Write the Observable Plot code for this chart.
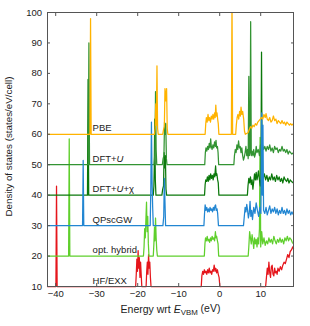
<!DOCTYPE html>
<html><head><meta charset="utf-8">
<script src="https://cdn.jsdelivr.net/npm/d3@7"></script>
<script src="https://cdn.jsdelivr.net/npm/@observablehq/plot@0.6"></script>
<style>body{margin:0;background:#fff} svg{display:block}</style>
</head><body><div id="chart"></div>
<script>
// ---- data (DOS values read relative to each curve's offset) ----
const seriesNames = ["PBE", "DFT+U", "DFT+U+χ", "QPscGW", "opt. hybrid", "HF/EXX"];
const offsets = [60, 50, 40, 30, 20, 10];
const colors = ["#ffb300", "#339433", "#0b780b", "#2286d2", "#5fcf2c", "#e5161c"];
const xTicks = [-40, -30, -20, -10, 0, 10];
const yTicks = [10, 20, 30, 40, 50, 60, 70, 80, 90, 100];
const xLabel = "Energy wrt E_VBM (eV)";
const yLabel = "Density of states (states/eV/cell)";
const labelEnergy = -31;

const pbe = [[-42,0],[-31.65,0],[-31.5,38],[-31.35,0],
[-15.9,0],[-15.75,2],[-15.6,10],[-15.45,3],[-15.3,22.5],[-15.15,2],[-15.0,0],
[-13.9,0],[-13.7,1.5],[-13.5,2.5],[-13.35,15],[-13.15,11],[-12.95,15],[-12.8,2],[-12.65,0],
[-3.55,0],[-3.4,3.5],[-3.25,5.5],[-3.05,4],[-2.85,6.5],[-2.65,4.5],[-2.45,5.5],[-2.25,4],[-2.05,6],[-1.85,5],[-1.65,6.5],[-1.45,5],[-1.25,7],[-1.1,5.5],[-0.95,9.6],[-0.8,6],[-0.65,7],[-0.5,5],[-0.35,3.5],[-0.2,0],
[2.85,0],[3.0,45],[3.15,0],
[3.9,0],[4.05,3],[4.25,5.5],[4.45,6.5],[4.65,5],[4.85,7.5],[5.05,6],[5.2,8.9],[5.4,6.5],[5.6,7.5],[5.85,5],[6.05,1],[6.25,0],[6.9,0.5],[7.2,1.5],[7.5,2.5],[7.8,2],[8.1,3],[8.4,2.5],[8.7,3.5],[9.0,3],[9.3,4],[9.6,4.5],[9.9,5],[10.2,5.5],[10.5,5],[10.8,6.5],[11.1,5.5],[11.3,6.8],[11.6,5],[11.9,4.5],[12.2,5.5],[12.5,4],[12.8,4.5],[13.1,6],[13.4,4.5],[13.7,5],[14.0,3.5],[14.3,4.5],[14.6,4],[14.9,3.5],[15.2,4.5],[15.5,3.5],[15.8,4],[16.1,3],[16.4,4],[16.7,3.5],[17.0,3],[17.3,3.5],[17.6,3],[18,3.5]];

const dftu = [[-42,0],[-32.05,0],[-31.9,40],[-31.75,0],
[-16.0,0],[-15.85,3],[-15.75,9],[-15.65,24],[-15.5,5],[-15.35,0],
[-14.0,0],[-13.8,2],[-13.6,3],[-13.45,14],[-13.3,10],[-13.15,13.5],[-13.0,2],[-12.85,0],
[-3.65,0],[-3.5,4],[-3.35,5.5],[-3.15,4.5],[-2.95,6],[-2.75,5],[-2.55,7],[-2.35,5.5],[-2.2,8.5],[-2.05,6],[-1.85,5],[-1.65,6.5],[-1.45,5.5],[-1.25,7.5],[-1.05,6],[-0.9,8],[-0.75,5.5],[-0.55,6],[-0.4,4],[-0.25,0],
[3.45,0],[3.6,3],[3.8,5],[4.0,4],[4.2,6.5],[4.4,5],[4.6,7.8],[4.8,5.5],[5.0,6],[5.2,4],[5.4,5.5],[5.6,3],[5.8,1.5],[6.0,2.5],[6.2,4],[6.4,6],[6.6,3],[6.8,5],[6.95,2],[7.1,29],[7.25,3],[7.4,4],[7.55,47],[7.7,3],[7.9,4.5],[8.1,3],[8.3,5],[8.5,2.5],[8.7,3.5],[8.9,6],[9.1,4],[9.4,5],[9.7,3],[9.95,6.5],[10.2,4],[10.45,6.5],[10.7,5],[11.0,6],[11.3,4.5],[11.6,6],[11.9,5],[12.2,6.5],[12.5,4.5],[12.8,5.5],[13.1,4],[13.4,6],[13.7,5],[14.0,5.5],[14.3,4],[14.6,5],[14.9,4.5],[15.2,6],[15.5,4.5],[15.8,5],[16.1,4],[16.4,5],[16.7,3.5],[17.0,4.5],[17.3,4],[17.6,3.5],[18,4]];

const dftuchi = [[-42,0],[-32.25,0],[-32.1,38],[-31.95,0],
[-16.2,0],[-16.05,3],[-15.95,10],[-15.85,25],[-15.7,5],[-15.55,0],
[-14.1,0],[-13.9,2],[-13.7,3],[-13.55,14],[-13.4,9],[-13.25,13],[-13.1,2],[-12.95,0],
[-3.7,0],[-3.55,3.5],[-3.4,5],[-3.2,4.5],[-3.0,6],[-2.8,4.5],[-2.6,6.5],[-2.4,5],[-2.2,7],[-2.0,5.5],[-1.8,6.5],[-1.6,5],[-1.4,7],[-1.2,6],[-1.0,9.6],[-0.85,6.5],[-0.7,7],[-0.5,5],[-0.35,4],[-0.2,0],
[6.75,0],[6.9,3],[7.1,5.5],[7.3,4],[7.5,6],[7.7,3.5],[7.9,5],[8.1,2],[8.3,4.5],[8.5,7],[8.7,5],[8.9,7.5],[9.1,5],[9.3,6.5],[9.45,8],[9.7,5],[9.9,3],[10.05,5],[10.2,47],[10.35,6],[10.6,5.5],[10.9,7],[11.2,5],[11.5,6.5],[11.8,4.5],[12.1,6],[12.4,5],[12.7,7],[13.0,5],[13.3,6],[13.6,4.5],[13.9,6.5],[14.2,5],[14.5,6],[14.8,4.5],[15.1,5.5],[15.4,4],[15.7,6],[16.0,5],[16.3,4.5],[16.6,5.5],[16.9,4],[17.2,5],[17.5,4.5],[18,4]];

const qpscgw = [[-42,0],[-33.45,0],[-33.3,21.4],[-33.15,0],
[-16.95,0],[-16.8,12],[-16.65,34],[-16.5,15],[-16.35,6],[-16.2,0],
[-13.85,0],[-13.65,3],[-13.5,15.5],[-13.35,8],[-13.2,0],
[-3.85,0],[-3.7,4],[-3.55,6.8],[-3.35,5],[-3.15,6],[-2.95,4.5],[-2.75,5.5],[-2.55,4.5],[-2.35,6],[-2.15,5],[-1.95,5.5],[-1.75,4.5],[-1.55,6],[-1.35,5],[-1.15,6.5],[-1.0,6.8],[-0.85,5],[-0.65,5.5],[-0.5,4],[-0.3,0],
[5.8,0],[6.0,3],[6.2,6],[6.4,4.5],[6.6,7],[6.8,5],[7.0,2.5],[7.2,4],[7.4,8],[7.6,3],[7.8,5],[8.0,2],[8.3,6],[8.6,4],[8.9,7.5],[9.2,5],[9.5,3],[9.8,6],[10.05,4],[10.25,37],[10.4,10],[10.55,33],[10.7,5],[11.0,4],[11.3,6],[11.6,3.5],[11.9,5],[12.2,6.5],[12.5,4],[12.8,5.5],[13.1,4.5],[13.4,6],[13.7,4],[14.0,5.5],[14.3,3.5],[14.6,5],[14.9,4],[15.2,6],[15.5,4],[15.8,5],[16.1,3.5],[16.4,5.5],[16.7,4],[17.0,5],[17.3,3.5],[17.6,4.5],[18,3.5]];

const opthybrid = [[-42,0],[-36.85,0],[-36.7,38.5],[-36.55,0],
[-18.6,0],[-18.45,3],[-18.3,9],[-18.15,6],[-18.0,12],[-17.85,17.7],[-17.7,8],[-17.55,13],[-17.4,4],[-17.25,0],
[-16.2,0],[-16.05,4],[-15.9,9.5],[-15.8,5],[-15.65,12.5],[-15.5,6],[-15.35,2],[-15.2,0],
[-3.75,0],[-3.6,4],[-3.45,6],[-3.25,5],[-3.05,6.5],[-2.85,5],[-2.65,5.5],[-2.45,4.5],[-2.25,6],[-2.05,5],[-1.85,6.5],[-1.65,5.5],[-1.45,6],[-1.25,5],[-1.05,8],[-0.9,6],[-0.75,6.5],[-0.55,5],[-0.4,4],[-0.25,0],
[6.95,0],[7.1,3],[7.3,8],[7.5,6],[7.7,4],[7.9,7],[8.1,5],[8.3,2.5],[8.5,6],[8.7,4],[8.9,5.5],[9.1,3],[9.3,6],[9.5,4],[9.7,9],[9.85,39],[10.0,3],[10.25,8],[10.5,4],[10.8,6],[11.1,3.5],[11.4,5],[11.7,4],[12.0,6],[12.3,4.5],[12.6,5.5],[12.9,4],[13.2,6.5],[13.5,5],[13.8,4],[14.1,5.5],[14.4,4.5],[14.7,6],[15.0,4.5],[15.3,5.5],[15.6,4],[15.9,6],[16.2,5],[16.5,6.5],[16.8,5],[17.1,6],[17.4,5.5],[17.7,4.5],[18,4]];

const hfexx = [[-42,0],[-39.95,0],[-39.8,33],[-39.65,0],
[-20.5,0],[-20.35,4],[-20.2,9],[-20.05,5],[-19.9,11.8],[-19.75,6],[-19.6,9.5],[-19.45,3],[-19.3,8],[-19.15,4],[-19.0,0],
[-17.95,0],[-17.8,5],[-17.65,8],[-17.5,4],[-17.35,10.5],[-17.2,6],[-17.05,8],[-16.9,3],[-16.75,0],
[-4.5,0],[-4.35,3.5],[-4.15,5],[-3.95,4],[-3.75,5.5],[-3.55,4.5],[-3.35,5],[-3.15,4],[-2.95,5.5],[-2.75,4.5],[-2.55,6],[-2.35,4.5],[-2.15,5],[-1.95,4],[-1.75,5.5],[-1.55,5],[-1.35,7],[-1.15,5],[-0.95,6],[-0.75,4.5],[-0.55,5.5],[-0.35,4],[-0.15,3],[0.05,0],
[11.2,0],[11.4,3],[11.6,6],[11.8,4],[12.0,8],[12.2,4.5],[12.4,3],[12.6,6.5],[12.8,7],[13.0,4],[13.2,3.5],[13.4,6],[13.6,4.5],[13.8,5],[14.0,4],[14.2,6],[14.5,5],[14.8,6.5],[15.1,5.5],[15.4,7],[15.7,8],[16.0,7.5],[16.3,9],[16.6,10.5],[16.9,9.5],[17.2,11.5],[17.5,12],[17.8,13],[18,12.5]];

const seriesData = [pbe, dftu, dftuchi, qpscgw, opthybrid, hfexx];
const drawOrder = [5, 4, 2, 1, 3, 0];

// ---- build ----
const rows = seriesData.map((pts, i) => pts.map(([e, d]) => ({series: seriesNames[i], energy: e, dos: d + offsets[i]})));
const labels = seriesNames.map((n, i) => ({name: n, energy: labelEnergy, dos: offsets[i]}));

const lineMarks = drawOrder.map(i => Plot.line(rows[i], {
  x: "energy", y: "dos", stroke: colors[i], strokeWidth: 1.25,
  clip: offsets[i] !== 10
}));

const chart = Plot.plot({
  width: 310, height: 326,
  marginLeft: 47, marginRight: 17, marginTop: 12, marginBottom: 40,
  style: {fontFamily: "'Liberation Sans', Arial, sans-serif", fontSize: "9.5px", background: "white", color: "#222"},
  x: {domain: [-42, 18]},
  y: {domain: [10, 100]},
  marks: [
    ...lineMarks,
    Plot.text(labels, {x: "energy", y: "dos", text: "name", textAnchor: "start", lineAnchor: "bottom", dy: -3, fill: "#222", fontSize: 9.5}),
    Plot.frame({stroke: "#555"}),
    Plot.axisX({anchor: "bottom", ticks: xTicks, tickSize: -3, tickPadding: 7, label: null, stroke: "#555", fill: "#222"}),
    Plot.axisX({anchor: "top", ticks: xTicks, tickSize: -3, tickFormat: () => "", label: null, stroke: "#555"}),
    Plot.axisY({anchor: "left", ticks: yTicks, tickSize: -3, tickPadding: 8.5, label: null, stroke: "#555", fill: "#222"}),
    Plot.axisY({anchor: "right", ticks: yTicks, tickSize: -3, tickFormat: () => "", label: null, stroke: "#555"}),
    Plot.text([xLabel], {frameAnchor: "bottom", textAnchor: "middle", lineAnchor: "bottom", dy: 26, fontSize: 10.5, fill: "#222"}),
    Plot.text([yLabel], {frameAnchor: "left", textAnchor: "middle", lineAnchor: "middle", rotate: -90, dx: -39, dy: -3, fontSize: 9.8, fill: "#222"})
  ]
});
document.getElementById("chart").append(chart);

// rich text: italic U, italic E with subscript
d3.select(chart).selectAll("text").each(function() {
  const t = d3.select(this);
  const s = this.textContent;
  if (s === "DFT+U" || s === "DFT+U+χ") {
    t.text(null);
    t.append("tspan").text("DFT+");
    t.append("tspan").attr("font-style", "italic").text("U");
    if (s.length > 5) t.append("tspan").text("+χ");
  } else if (s === xLabel) {
    t.text(null);
    t.append("tspan").text("Energy wrt ");
    t.append("tspan").attr("font-style", "italic").text("E");
    t.append("tspan").attr("font-size", "75%").attr("dy", "0.35em").text("VBM");
    t.append("tspan").attr("dy", "-0.35em").text(" (eV)");
  }
});
</script>
</body></html>
